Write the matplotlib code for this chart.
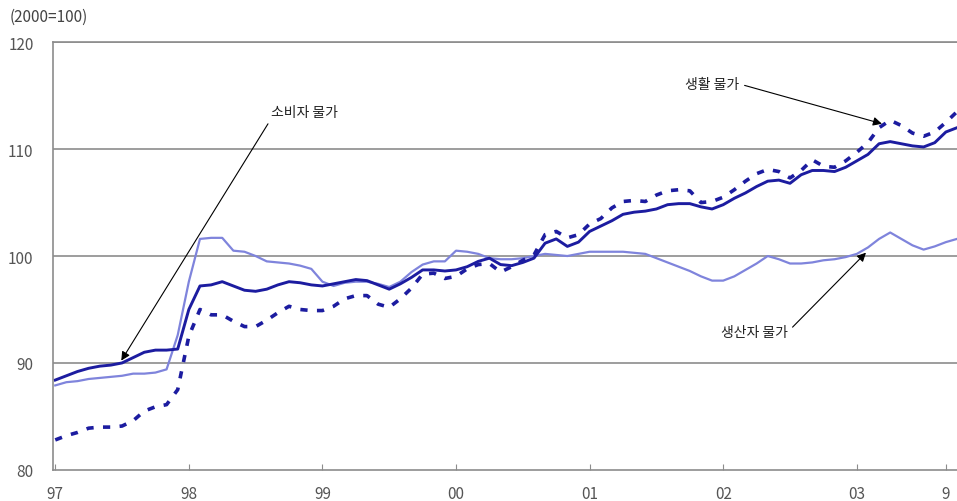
import matplotlib.pyplot as plt
import numpy as np

plt.rcParams['font.family'] = ['Noto Sans CJK KR', 'DejaVu Sans']

# monthly index, Jan 1997 = 0 ... Oct 2003 = 81
consumer = [88.4, 88.8, 89.2, 89.5, 89.7, 89.8, 90.0, 90.5, 91.0, 91.2, 91.2, 91.3,
            95.0, 97.2, 97.3, 97.6, 97.2, 96.8, 96.7, 96.9, 97.3, 97.6, 97.5, 97.3,
            97.2, 97.4, 97.6, 97.8, 97.7, 97.3, 96.9, 97.4, 98.0, 98.7, 98.7, 98.6,
            98.7, 99.0, 99.5, 99.8, 99.2, 99.1, 99.4, 99.8, 101.2, 101.6, 100.9, 101.3,
            102.3, 102.8, 103.3, 103.9, 104.1, 104.2, 104.4, 104.8, 104.9, 104.9, 104.6, 104.4,
            104.8, 105.4, 105.9, 106.5, 107.0, 107.1, 106.8, 107.6, 108.0, 108.0, 107.9, 108.3,
            108.9, 109.5, 110.5, 110.7, 110.5, 110.3, 110.2, 110.6, 111.6, 112.0]

living = [82.8, 83.2, 83.5, 83.9, 84.0, 84.0, 84.1, 84.6, 85.5, 85.9, 86.1, 87.5,
          92.5, 95.0, 94.5, 94.5, 93.9, 93.4, 93.4, 94.0, 94.7, 95.3, 95.0, 94.9,
          94.9, 95.3, 96.0, 96.3, 96.3, 95.5, 95.2, 96.0, 97.0, 98.3, 98.4, 97.9,
          98.1, 98.8, 99.2, 99.3, 98.5, 99.0, 99.6, 100.1, 102.0, 102.3, 101.7, 102.0,
          103.0, 103.5, 104.5, 105.1, 105.2, 105.1, 105.7, 106.1, 106.2, 106.1, 105.0, 105.1,
          105.5, 106.2, 107.0, 107.7, 108.1, 107.9, 107.3, 108.0, 109.0, 108.4, 108.3, 108.9,
          109.7, 110.6, 112.0, 112.7, 112.2, 111.5, 111.2, 111.6, 112.5, 113.5]

producer = [87.9, 88.2, 88.3, 88.5, 88.6, 88.7, 88.8, 89.0, 89.0, 89.1, 89.4, 92.6,
            97.6, 101.6, 101.7, 101.7, 100.5, 100.4, 100.0, 99.5, 99.4, 99.3, 99.1, 98.8,
            97.6, 97.2, 97.5, 97.6, 97.6, 97.4, 97.1, 97.6, 98.5, 99.2, 99.5, 99.5,
            100.5, 100.4, 100.2, 99.8, 99.7, 99.7, 99.8, 100.0, 100.2, 100.1, 100.0, 100.2,
            100.4, 100.4, 100.4, 100.4, 100.3, 100.2, 99.8, 99.4, 99.0, 98.6, 98.1, 97.7,
            97.7, 98.1, 98.7, 99.3, 100.0, 99.7, 99.3, 99.3, 99.4, 99.6, 99.7, 99.9,
            100.2, 100.8, 101.6, 102.2, 101.6, 101.0, 100.6, 100.9, 101.3, 101.6]

tick_pos = [0, 12, 24, 36, 48, 60, 72, 80]
tick_labels = ['97', '98', '99', '00', '01', '02', '03', '9']

dark = '#1c1ca0'
light = '#7f84dc'
grey = '#8c8c8c'

months = np.arange(len(consumer))

fig = plt.figure(figsize=(9.57, 5.02), dpi=100)
ax = fig.add_axes([0.0554, 0.062, 0.9446, 0.852])

ax.plot(months, producer, color=light, lw=1.6)
ax.plot(months, living, color=dark, lw=2.6, linestyle=(0, (2.0, 2.6)))
ax.plot(months, consumer, color=dark, lw=2.1)

ax.set_xlim(-0.2, 81)
ax.set_ylim(80, 120)
ax.set_yticks([80, 90, 100, 110, 120])
ax.set_xticks(tick_pos)
ax.set_xticklabels(tick_labels)

for y in [90, 100, 110, 120]:
    ax.axhline(y, color=grey, lw=1.2, zorder=0)

ax.spines['right'].set_visible(False)
for s in ['left', 'bottom', 'top']:
    ax.spines[s].set_color(grey)
    ax.spines[s].set_linewidth(1.2)

ax.tick_params(axis='x', direction='in', length=4, color=grey, pad=11,
               labelsize=11, labelcolor='#555555')
ax.tick_params(axis='y', length=0, pad=14, labelsize=11, labelcolor='#555555')

fig.text(0.01, 0.965, '(2000=100)', fontsize=11, color='#444444', va='center')

arrow = dict(arrowstyle='-|>', color='black', lw=0.8, mutation_scale=13)
ax.annotate('소비자 물가', xy=(5.8, 90.0), xytext=(22.4, 113.5),
            fontsize=10, ha='center', va='center', color='#222222',
            arrowprops=dict(arrow, relpos=(0.0, 0.0)))
ax.annotate('생활 물가', xy=(74.5, 112.3), xytext=(59.0, 116.1),
            fontsize=10, ha='center', va='center', color='#222222',
            arrowprops=dict(arrow, relpos=(1.0, 0.5)))
ax.annotate('생산자 물가', xy=(73.0, 100.5), xytext=(62.8, 92.9),
            fontsize=10, ha='center', va='center', color='#222222',
            arrowprops=dict(arrow, relpos=(1.0, 0.5)))

plt.savefig('out.png')
